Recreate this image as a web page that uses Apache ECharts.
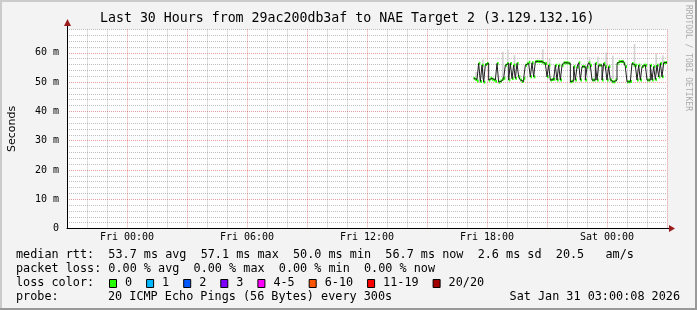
<!DOCTYPE html>
<html><head><meta charset="utf-8">
<script src="https://cdn.jsdelivr.net/npm/echarts@6/dist/echarts.min.js"></script>
<style>html,body{margin:0;padding:0;background:#f3f3f3}#c{width:697px;height:310px}</style>
</head><body><div id="c"></div>
<script>
// ---- data ----
const titleText = 'Last 30 Hours from 29ac200db3af to NAE Target 2 (3.129.132.16)';
const xLabelHours = [3, 9, 15, 21, 27];            // hours after Thu 21:00
const xLabelTexts = ['Fri 00:00', 'Fri 06:00', 'Fri 12:00', 'Fri 18:00', 'Sat 00:00'];
const yMax = 68;
const spanHours = 30;
const stepSeconds = 300;
// median rtt (ms), one value per 5-minute step, ending at Sat 03:00
const medianRtt = [
  51.3, 50.9, 50.4, 56.4, 50.2, 55.8, 50.0, 56.0, 56.4, 50.7,
  51.3, 51.0, 50.7, 50.3, 56.4, 50.0, 50.4, 51.0, 51.3, 55.8,
  56.4, 50.8, 56.4, 51.2, 55.8, 51.3, 56.4, 51.8, 50.7, 50.2,
  51.3, 55.8, 56.4, 56.8, 51.8, 56.6, 51.8, 57.0, 57.1, 57.0,
  57.0, 56.9, 56.4, 56.4, 51.8, 55.8, 50.7, 50.9, 51.0, 55.8,
  50.7, 55.8, 50.7, 55.8, 56.6, 56.6, 56.6, 56.4, 50.1, 50.4,
  55.3, 50.7, 55.2, 56.6, 50.7, 55.3, 55.3, 50.7, 55.2, 56.6,
  55.8, 50.7, 50.7, 56.4, 50.7, 55.8, 55.8, 50.7, 56.4, 55.3,
  50.7, 55.3, 50.7, 50.1, 50.1, 50.7, 56.4, 57.0, 57.0, 57.0,
  56.4, 55.3, 50.1, 50.1, 50.2, 56.4, 55.8, 55.8, 50.7, 55.8,
  50.7, 55.3, 55.8, 55.8, 50.7, 50.7, 55.8, 50.7, 55.3, 50.9,
  55.8, 51.8, 56.4, 51.8, 56.6, 56.7
];
// smoke spikes: [step index, lowest ping ms, highest ping ms]
const smokeSpikes = [
  [1, 50.9, 53.5], [5, 51.0, 57.7], [17, 51.0, 60.4], [20, 54.0, 61.0],
  [24, 52.0, 59.2], [41, 56.0, 61.2], [45, 54.0, 58.1], [69, 54.0, 58.5],
  [74, 52.0, 58.7], [79, 54.0, 60.1], [83, 51.0, 59.0], [96, 55.0, 63.0],
  [109, 53.0, 59.8], [113, 54.0, 59.2]
];
const lossLabels = ['0', '1', '2', '3', '4-5', '6-10', '11-19', '20/20'];
const lossColors = ['#26ff00', '#00b8ff', '#0059ff', '#7e00ff', '#ff00ff', '#ff5500', '#ff0000', '#a10000'];
const statsLine = 'median rtt:  53.7 ms avg  57.1 ms max  50.0 ms min  56.7 ms now  2.6 ms sd  20.5   am/s';
const lossLine = 'packet loss: 0.00 % avg  0.00 % max  0.00 % min  0.00 % now';
const probeLabel = 'probe:';
const probeText = '20 ICMP Echo Pings (56 Bytes) every 300s';
const stampText = 'Sat Jan 31 03:00:08 2026';

// ---- build ----
const MONO = 'DejaVu Sans Mono';
const stepH = stepSeconds / 3600;
const N = medianRtt.length;
const t0 = spanHours - N * stepH;
const times = medianRtt.map((v, i) => t0 + i * stepH);
const lineData = medianRtt.map((v, i) => [times[i], v]);
lineData.push([spanHours, medianRtt[N - 1]]);
const greenData = medianRtt.map((v, i) => [times[i], v]);
const smokeData = smokeSpikes.map(s => [times[s[0]], s[1], s[2]]);

const GRID = 'rgba(140,140,140,0.55)';
const MGRID = 'rgba(200,40,40,0.45)';

const legendFont = '11.8px ' + MONO;
const graphics = [];
// frame
graphics.push({type:'rect', shape:{x:0,y:0,width:697,height:2}, style:{fill:'#cbcbcb'}, silent:true});
graphics.push({type:'rect', shape:{x:0,y:0,width:2,height:310}, style:{fill:'#cbcbcb'}, silent:true});
graphics.push({type:'rect', shape:{x:0,y:308,width:697,height:2}, style:{fill:'#999999'}, silent:true});
graphics.push({type:'rect', shape:{x:695,y:0,width:2,height:310}, style:{fill:'#999999'}, silent:true});
// axis extensions and arrows
graphics.push({type:'line', shape:{x1:67.5,y1:29,x2:67.5,y2:24}, style:{stroke:'#000',lineWidth:1}, silent:true});
graphics.push({type:'polygon', shape:{points:[[67.5,19],[64,26],[71,26]]}, style:{fill:'#9b1c1c'}, silent:true});
graphics.push({type:'line', shape:{x1:667,y1:228.5,x2:670,y2:228.5}, style:{stroke:'#000',lineWidth:1}, silent:true});
graphics.push({type:'polygon', shape:{points:[[675,228.5],[669,225],[669,232]]}, style:{fill:'#9b1c1c'}, silent:true});
// watermark
graphics.push({type:'text', x:688, y:5, rotation:-Math.PI/2, silent:true,
  style:{text:'RRDTOOL / TOBI OETIKER', font:'8px ' + MONO, fill:'#aaaaaa', align:'left', verticalAlign:'middle'}});
// title
graphics.push({type:'text', x:100, y:18.5, silent:true,
  style:{text:titleText, font:'13.25px ' + MONO, fill:'#000', verticalAlign:'middle'}});
// legend lines
graphics.push({type:'text', x:16, y:255, style:{text:statsLine, font:legendFont, fill:'#000', verticalAlign:'middle'}});
graphics.push({type:'text', x:16, y:269, style:{text:lossLine, font:legendFont, fill:'#000', verticalAlign:'middle'}});
graphics.push({type:'text', x:16, y:283, style:{text:'loss color:', font:legendFont, fill:'#000', verticalAlign:'middle'}});
let bx = 109;
lossLabels.forEach((lab, i) => {
  graphics.push({type:'rect', shape:{x:bx + 0.5, y:279.5, width:7, height:8}, style:{fill:lossColors[i], stroke:'#000', lineWidth:1}});
  graphics.push({type:'text', x:bx + 16, y:283, style:{text:lab, font:legendFont, fill:'#000', verticalAlign:'middle'}});
  bx = bx + 16 + lab.length * 7.1 + 14;
});
graphics.push({type:'text', x:16, y:297, style:{text:probeLabel, font:legendFont, fill:'#000', verticalAlign:'middle'}});
graphics.push({type:'text', x:108, y:297, style:{text:probeText, font:legendFont, fill:'#000', verticalAlign:'middle'}});
graphics.push({type:'text', x:680, y:297, style:{text:stampText, font:legendFont, fill:'#000', align:'right', verticalAlign:'middle'}});

const chart = echarts.init(document.getElementById('c'), null, {renderer:'canvas'});
chart.setOption({
  animation: false,
  backgroundColor: '#f3f3f3',
  grid: {left: 67, right: 30, top: 29.4, bottom: 81.4, show: true, backgroundColor: '#ffffff', borderWidth: 0,
    containLabel: false, outerBoundsMode: 'none'},
  xAxis: {
    type: 'value', min: 0, max: spanHours, interval: 1,
    axisLine: {show: true, onZero: false, lineStyle: {color: '#000', width: 1}},
    axisTick: {show: false},
    axisLabel: {margin: 4, fontFamily: MONO, fontSize: 10, color: '#000',
      formatter: v => { const k = xLabelHours.indexOf(Math.round(v)); return (k >= 0 && Math.abs(v - Math.round(v)) < 1e-6) ? xLabelTexts[k] : ''; }},
    splitLine: {show: true, lineStyle: {color: [MGRID, GRID, GRID], type: [1, 1], width: 1}}
  },
  yAxis: {
    type: 'value', min: 0, max: yMax, interval: 2,
    name: 'Seconds', nameLocation: 'middle', nameGap: 49, nameRotate: 90,
    nameTextStyle: {fontFamily: 'DejaVu Sans', fontSize: 11, color: '#000'},
    axisLine: {show: true, lineStyle: {color: '#000', width: 1}},
    axisTick: {show: false},
    axisLabel: {margin: 8, fontFamily: MONO, fontSize: 10, color: '#000',
      formatter: v => v === 0 ? '0' : (v % 10 === 0 ? v + ' m' : '')},
    splitLine: {show: true, lineStyle: {color: [MGRID, GRID, GRID, GRID, GRID], type: [1, 1], width: 1}}
  },
  series: [
    {type: 'custom', name: 'smoke', data: smokeData, encode: {x: 0, y: [1, 2]}, z: 1,
      renderItem: (params, api) => {
        const t = api.value(0), lo = api.value(1), hi = api.value(2);
        const p0 = api.coord([t, hi]), p1 = api.coord([t + stepH, lo]);
        return {type: 'rect', shape: {x: p0[0], y: p0[1], width: p1[0] - p0[0], height: p1[1] - p0[1]},
          style: {fill: '#d4d4d4'}};
      }},
    {type: 'custom', name: 'loss0', data: greenData, encode: {x: 0, y: 1}, z: 2,
      renderItem: (params, api) => {
        const t = api.value(0), v = api.value(1);
        const p0 = api.coord([t, v]), p1 = api.coord([t + stepH, v]);
        return {type: 'rect', shape: {x: p0[0], y: p0[1] - 1.5, width: p1[0] - p0[0], height: 3},
          style: {fill: lossColors[0]}};
      }},
    {type: 'line', name: 'median', data: lineData, step: 'end', showSymbol: false, symbol: 'none', z: 3,
      lineStyle: {color: '#202020', width: 1}}
  ],
  graphic: graphics
});
</script></body></html>
